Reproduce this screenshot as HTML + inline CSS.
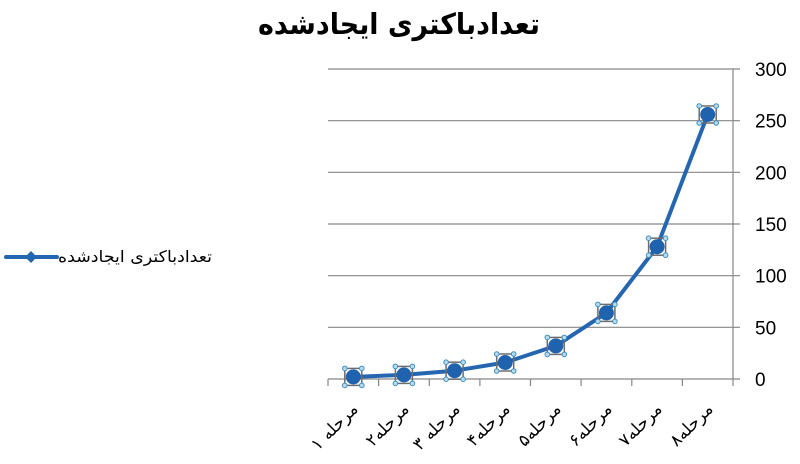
<!DOCTYPE html>
<html>
<head>
<meta charset="utf-8">
<style>
html,body{margin:0;padding:0;background:#fff;}
svg{display:block;}
.ar{font-family:"DejaVu Sans","Liberation Sans",sans-serif;}
.num{font-family:"Liberation Sans",sans-serif;}
</style>
</head>
<body>
<svg width="800" height="464" viewBox="0 0 800 464" xmlns="http://www.w3.org/2000/svg">
  <rect width="800" height="464" fill="#fff"/>
  <!-- title -->
  <text class="ar" x="399" y="34" text-anchor="middle" font-size="29" font-weight="bold" fill="#000" textLength="282" lengthAdjust="spacingAndGlyphs">تعدادباکتری ایجادشده</text>

  <!-- gridlines -->
  <g stroke="#868686" stroke-width="1.2">
    <line x1="328" y1="69" x2="740" y2="69"/>
    <line x1="328" y1="120.7" x2="740" y2="120.7"/>
    <line x1="328" y1="172.3" x2="740" y2="172.3"/>
    <line x1="328" y1="224" x2="740" y2="224"/>
    <line x1="328" y1="275.7" x2="740" y2="275.7"/>
    <line x1="328" y1="327.3" x2="740" y2="327.3"/>
    <line x1="328" y1="379" x2="740" y2="379"/>
    <line x1="733" y1="69" x2="733" y2="386"/>
    <line x1="328" y1="379" x2="328" y2="386"/>
    <line x1="378.6" y1="379" x2="378.6" y2="386"/>
    <line x1="429.3" y1="379" x2="429.3" y2="386"/>
    <line x1="479.9" y1="379" x2="479.9" y2="386"/>
    <line x1="530.5" y1="379" x2="530.5" y2="386"/>
    <line x1="581.1" y1="379" x2="581.1" y2="386"/>
    <line x1="631.8" y1="379" x2="631.8" y2="386"/>
    <line x1="682.4" y1="379" x2="682.4" y2="386"/>
  </g>

  <!-- y labels -->
  <g class="num" font-size="19" fill="#000">
    <text class="num" x="755" y="76">300</text>
    <text class="num" x="755" y="127.7">250</text>
    <text class="num" x="755" y="179.3">200</text>
    <text class="num" x="755" y="231">150</text>
    <text class="num" x="755" y="282.7">100</text>
    <text class="num" x="755" y="334.3">50</text>
    <text class="num" x="755" y="386">0</text>
  </g>

  <!-- series line -->
  <polyline fill="none" stroke="#2566b0" stroke-width="4" stroke-linejoin="round" stroke-linecap="round"
    points="353.3,376.9 403.9,374.9 454.6,370.7 505.2,362.5 555.8,345.9 606.4,312.9 657.1,246.7 707.7,114.5"/>

  <!-- markers -->
  <defs>
    <g id="mk">
      <rect x="-8.5" y="-8.5" width="17" height="17" fill="none" stroke="#6d6d6d" stroke-width="1.5"/>
      <circle r="7.5" fill="#1f62ad"/>
      <g fill="#b8dcef" stroke="#3f8fc0" stroke-width="1"><circle cx="-8.5" cy="-8.5" r="2.3"/><circle cx="8.5" cy="-8.5" r="2.3"/><circle cx="-8.5" cy="8.5" r="2.3"/><circle cx="8.5" cy="8.5" r="2.3"/></g>
    </g>
  </defs>
  <use href="#mk" x="353.3" y="376.9"/>
  <use href="#mk" x="403.9" y="374.9"/>
  <use href="#mk" x="454.6" y="370.7"/>
  <use href="#mk" x="505.2" y="362.5"/>
  <use href="#mk" x="555.8" y="345.9"/>
  <use href="#mk" x="606.4" y="312.9"/>
  <use href="#mk" x="657.1" y="246.7"/>
  <use href="#mk" x="707.7" y="114.5"/>

  <!-- x labels -->
  <g class="ar" font-size="17" fill="#000">
    <text class="ar" x="359" y="410" text-anchor="end" transform="rotate(-45 359 410)">مرحله ۱</text>
    <text class="ar" x="410" y="410" text-anchor="end" transform="rotate(-45 410 410)">مرحله۲</text>
    <text class="ar" x="461" y="410" text-anchor="end" transform="rotate(-45 461 410)">مرحله ۳</text>
    <text class="ar" x="511" y="410" text-anchor="end" transform="rotate(-45 511 410)">مرحله۴</text>
    <text class="ar" x="562" y="410" text-anchor="end" transform="rotate(-45 562 410)">مرحله۵</text>
    <text class="ar" x="613" y="410" text-anchor="end" transform="rotate(-45 613 410)">مرحله۶</text>
    <text class="ar" x="663" y="410" text-anchor="end" transform="rotate(-45 663 410)">مرحله۷</text>
    <text class="ar" x="714" y="410" text-anchor="end" transform="rotate(-45 714 410)">مرحله۸</text>
  </g>

  <!-- legend -->
  <line x1="6" y1="257" x2="57" y2="257" stroke="#2566b0" stroke-width="4" stroke-linecap="round"/>
  <polygon points="31,251 37,257 31,263 25,257" fill="#2566b0"/>
  <text class="ar" x="58" y="262" font-size="16" fill="#000" textLength="154" lengthAdjust="spacingAndGlyphs">تعدادباکتری ایجادشده</text>
</svg>
</body>
</html>
